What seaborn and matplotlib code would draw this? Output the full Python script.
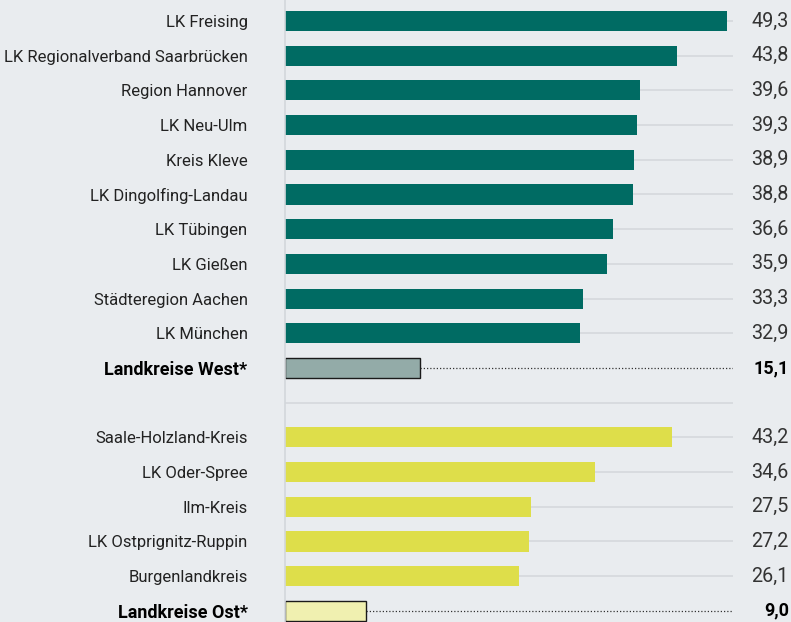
import matplotlib
matplotlib.use("Agg")
import matplotlib.pyplot as plt
import matplotlib.transforms as mtransforms
import pandas as pd
import seaborn as sns

# Data
west_names = ["LK Freising", "LK Regionalverband Saarbrücken", "Region Hannover",
              "LK Neu-Ulm", "Kreis Kleve", "LK Dingolfing-Landau", "LK Tübingen",
              "LK Gießen", "Städteregion Aachen", "LK München"]
west_values = [49.3, 43.8, 39.6, 39.3, 38.9, 38.8, 36.6, 35.9, 33.3, 32.9]
west_total_name = "Landkreise West*"
west_total = 15.1

east_names = ["Saale-Holzland-Kreis", "LK Oder-Spree", "Ilm-Kreis",
              "LK Ostprignitz-Ruppin", "Burgenlandkreis"]
east_values = [43.2, 34.6, 27.5, 27.2, 26.1]
east_total_name = "Landkreise Ost*"
east_total = 9.0

spacer = " "

labels = west_names + [west_total_name, spacer] + east_names + [east_total_name]
values = west_values + [west_total, None] + east_values + [east_total]
colors = (["#006b63"] * len(west_names) + ["#93aba8", "#e9ecef"]
          + ["#dede4a"] * len(east_names) + ["#f0f0b0"])
totals = {west_total_name, east_total_name}

df = pd.DataFrame({"name": labels, "value": values})

sns.set_theme(style="white")
plt.rcParams["font.family"] = ["Roboto", "DejaVu Sans"]

bg = "#e9ecef"
fig = plt.figure(figsize=(7.91, 6.22), dpi=100, facecolor=bg)
ax = fig.add_axes([285 / 791, 0, 448 / 791, 1])
ax.set_facecolor(bg)

xmax = 50
n = len(labels)

# light row guides behind the bars, dotted leaders for the totals
for i, (lab, v) in enumerate(zip(labels, values)):
    if lab in totals:
        ax.hlines(i, v, xmax * 1.004, color="#333333", lw=0.9,
                  linestyles=(0, (1, 1.6)), zorder=0)
    else:
        ax.hlines(i, 0, xmax, color="#d3d7db", lw=1.1, zorder=0)

sns.barplot(data=df, y="name", x="value", hue="name", order=labels,
            palette=dict(zip(labels, colors)), legend=False, width=0.58,
            saturation=1, ax=ax, zorder=2)

for patch, lab in zip(ax.patches, [l for l, v in zip(labels, values) if v is not None]):
    if lab in totals:
        patch.set_edgecolor("#1a1a1a")
        patch.set_linewidth(1.0)
    else:
        patch.set_linewidth(0)

ax.set_xlim(0, xmax)
ax.set_ylim(17.32, -0.605)
ax.set_xlabel("")
ax.set_ylabel("")
ax.set_xticks([])

ax.set_yticks(range(n))
ax.set_yticklabels(labels, fontsize=12, color="#222222")
ax.tick_params(axis="y", length=0, pad=27)
for t in ax.get_yticklabels():
    if t.get_text() in totals:
        t.set_fontweight("bold")
        t.set_fontsize(13)
        t.set_color("#000000")

for s in ["top", "right", "bottom"]:
    ax.spines[s].set_visible(False)
ax.spines["left"].set_color("#d3d7db")
ax.spines["left"].set_linewidth(1.2)

# value labels at the right margin
trans = mtransforms.blended_transform_factory(ax.transAxes, ax.transData)
for i, (lab, v) in enumerate(zip(labels, values)):
    if v is None:
        continue
    txt = f"{v:.1f}".replace(".", ",")
    bold = lab in totals
    ax.text(1.1245, i, txt, transform=trans, ha="right", va="center",
            fontsize=13 if bold else 14.2, fontweight="bold" if bold else "normal",
            color="#000000" if bold else "#333333")

fig.savefig("out.png", dpi=100, facecolor=bg)
